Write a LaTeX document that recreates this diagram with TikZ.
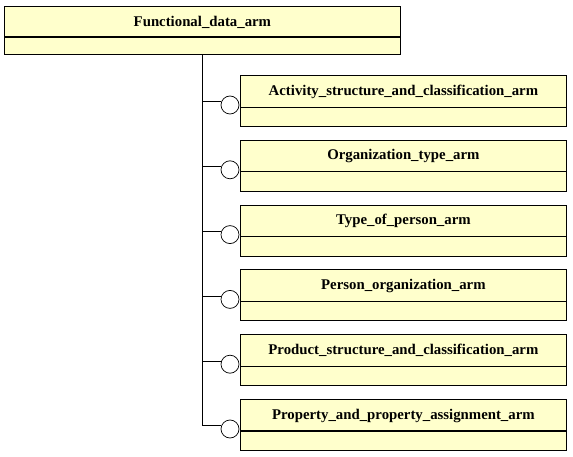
\documentclass[tikz,border=0pt]{standalone}
\usepackage{fontspec}
\setmainfont{Liberation Serif}
\usetikzlibrary{positioning}
\definecolor{armfill}{RGB}{255,255,204}
\tikzset{
	armbox/.style={draw, line width=0.8pt, fill=armfill, rectangle, minimum width=326pt, minimum height=51pt, anchor=north west, inner sep=0pt},
	armtitle/.style={font=\fontsize{14.8}{16}\bfseries\selectfont},
	socket/.style={draw, line width=0.7pt, fill=white, circle, minimum size=18pt, inner sep=0pt},
	thinrule/.style={line width=0.7pt},
	thickrule/.style={line width=1.6pt}
}

\begin{document}
\begin{tikzpicture}[x=1pt, y=-1pt]
	\useasboundingbox (0,0) rectangle (573,457);
	
	% top module
	\node[armbox, minimum width=396pt, minimum height=48pt] (fd) at (4,6) {};
	\draw[thickrule] ([yshift=-31pt]fd.north west) -- ([yshift=-31pt]fd.north east);
	\node[armtitle] (fdtitle) at ([yshift=-16.5pt]fd.north) {Functional\_data\_arm};
	
	% used modules
	\foreach \name/\txt/\rule [count=\i] in {
		act/Activity\_structure\_and\_classification\_arm/thinrule,
		org/Organization\_type\_arm/thinrule,
		top/Type\_of\_person\_arm/thickrule,
		por/Person\_organization\_arm/thickrule,
		psc/Product\_structure\_and\_classification\_arm/thinrule,
		ppa/Property\_and\_property\_assignment\_arm/thickrule}
	{
		\node[socket] (s\i) at (230, {105+64.8*(\i-1)}) {};
		\node[armbox] (\name) at (240, {75+64.8*(\i-1)}) {};
		\draw[\rule] ([yshift=-32pt]\name.north west) -- ([yshift=-32pt]\name.north east);
		\node[armtitle] (\name title) at ([yshift=-16.5pt]\name.north) {\txt};
		\draw[line width=0.7pt] (fd.south |- s\i.160) -- (s\i.160);
	}
	
	% trunk
	\draw[line width=0.7pt] (fd.south) -- (fd.south |- s6.160);
\end{tikzpicture}
\end{document}
